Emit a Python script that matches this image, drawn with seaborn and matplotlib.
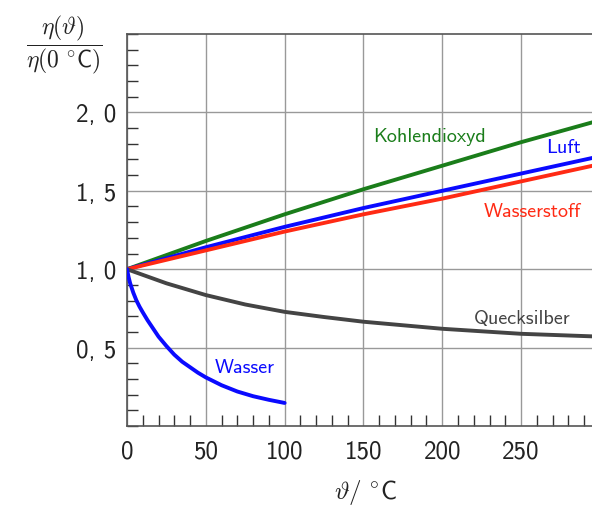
import matplotlib
matplotlib.use("Agg")
import matplotlib.pyplot as plt
import seaborn as sns
import pandas as pd
from matplotlib.ticker import MultipleLocator, FixedLocator, FixedFormatter

# relative viscosity eta(theta) / eta(0 C)
gas_t = [0, 50, 100, 150, 200, 250, 300]
kohlendioxyd = [1.0, 1.18, 1.35, 1.51, 1.66, 1.81, 1.95]
luft = [1.0, 1.14, 1.27, 1.39, 1.50, 1.61, 1.72]
wasserstoff = [1.0, 1.12, 1.24, 1.35, 1.45, 1.56, 1.67]

hg_t = [0, 25, 50, 75, 100, 125, 150, 200, 250, 300]
quecksilber = [1.0, 0.91, 0.835, 0.775, 0.728, 0.695, 0.665, 0.62, 0.588, 0.57]

w_t = [0, 1, 2, 4, 6, 8, 10, 13, 16, 20, 25, 30, 35, 40, 45, 50, 60, 70, 80, 90, 100]
wasser = [1.0, 0.95, 0.91, 0.85, 0.80, 0.76, 0.725, 0.675, 0.63, 0.57, 0.51, 0.455,
          0.41, 0.375, 0.34, 0.31, 0.26, 0.22, 0.19, 0.167, 0.147]

xtick_vals = [0, 50, 100, 150, 200, 250]
xtick_labels = ["0", "50", "100", "150", "200", "250"]
ytick_vals = [0.5, 1.0, 1.5, 2.0]
ytick_labels = ["0, 5", "1, 0", "1, 5", "2, 0"]

series = [
    ("Kohlendioxyd", gas_t, kohlendioxyd, "#1a7d1a"),
    ("Luft", gas_t, luft, "#0a0aff"),
    ("Wasserstoff", gas_t, wasserstoff, "#ff2a14"),
    ("Quecksilber", hg_t, quecksilber, "#444444"),
    ("Wasser", w_t, wasser, "#0a0aff"),
]

sns.set_theme(style="white")
plt.rcParams["mathtext.fontset"] = "cm"
plt.rcParams["font.family"] = ["cmss10", "DejaVu Sans"]
plt.rcParams["axes.unicode_minus"] = False

fig = plt.figure(figsize=(5.92, 5.06), dpi=100)
ax = fig.add_axes([127 / 592, 1 - 427 / 506, 1 - 127 / 592, (427 - 35) / 506])

for name, t, v, c in series:
    df = pd.DataFrame({"t": t, "v": v})
    sns.lineplot(data=df, x="t", y="v", ax=ax, color=c, lw=2.8, zorder=3)

ax.set_xlim(0, 295)
ax.set_ylim(0, 2.5)
ax.set_xlabel("")
ax.set_ylabel("")

ax.xaxis.set_major_locator(FixedLocator(xtick_vals))
ax.xaxis.set_major_formatter(FixedFormatter(xtick_labels))
ax.yaxis.set_major_locator(FixedLocator(ytick_vals))
ax.yaxis.set_major_formatter(FixedFormatter(ytick_labels))
ax.xaxis.set_minor_locator(MultipleLocator(10))
ax.yaxis.set_minor_locator(MultipleLocator(0.1))

ax.grid(True, which="major", color="#999999", lw=1.0)
ax.tick_params(which="both", direction="in", color="#333333", width=1.0,
               bottom=True, left=True, top=False, right=False)
ax.tick_params(which="major", length=0, labelsize=18, labelcolor="#222222", pad=8)
ax.tick_params(which="minor", length=8)
ax.tick_params(axis="x", which="major", pad=10)

for s in ["left", "bottom", "top"]:
    ax.spines[s].set_color("#555555")
    ax.spines[s].set_linewidth(1.2)
ax.spines["right"].set_visible(False)

ax.text(192, 1.85, "Kohlendioxyd", color="#1a7d1a", fontsize=14.5, ha="center", va="center")
ax.text(277, 1.78, "Luft", color="#0a0aff", fontsize=14.5, ha="center", va="center")
ax.text(257, 1.37, "Wasserstoff", color="#ff2a14", fontsize=14.5, ha="center", va="center")
ax.text(251, 0.69, "Quecksilber", color="#444444", fontsize=14.5, ha="center", va="center")
ax.text(75, 0.375, "Wasser", color="#0a0aff", fontsize=14.5, ha="center", va="center")

fig.text(365 / 592, 1 - 493 / 506, r"$\vartheta/\ ^{\circ}\mathsf{C}$", fontsize=18,
         color="#222222", ha="center", va="center")
fig.text(64 / 592, 1 - 45 / 506, r"$\dfrac{\eta(\vartheta)}{\eta(0\ ^{\circ}\mathsf{C})}$",
         fontsize=17, color="#222222", ha="center", va="center")

fig.savefig("out.png", dpi=100)
